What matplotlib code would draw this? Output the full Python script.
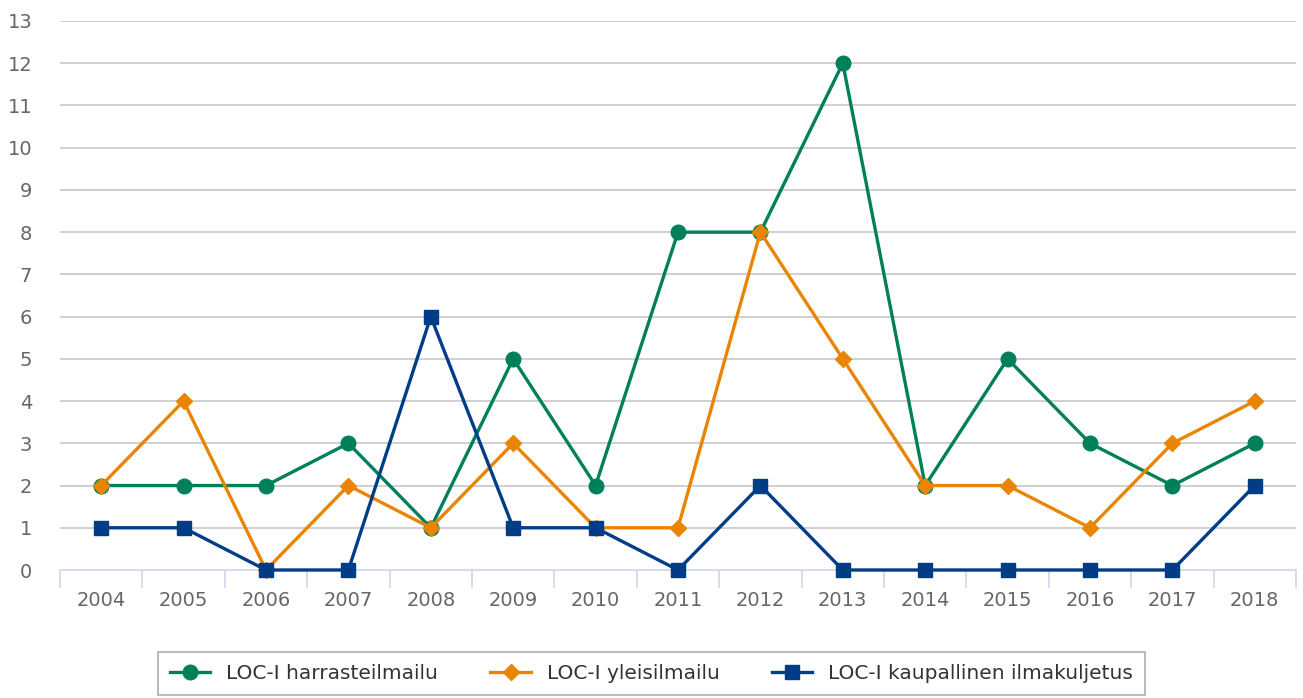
import matplotlib.pyplot as plt
import numpy as np

years = [str(y) for y in range(2004, 2019)]
harrasteilmailu = [2, 2, 2, 3, 1, 5, 2, 8, 8, 12, 2, 5, 3, 2, 3]
yleisilmailu = [2, 4, 0, 2, 1, 3, 1, 1, 8, 5, 2, 2, 1, 3, 4]
kaupallinen = [1, 1, 0, 0, 6, 1, 1, 0, 2, 0, 0, 0, 0, 0, 2]

labels = ["LOC-I harrasteilmailu", "LOC-I yleisilmailu", "LOC-I kaupallinen ilmakuljetus"]
colors = ["#00805a", "#ea8504", "#003d87"]
markers = ["o", "D", "s"]
sizes = [10.5, 8.5, 10.5]

fig = plt.figure(figsize=(13.03, 6.98), dpi=100)
ax = fig.add_axes([60 / 1303, 1 - 570 / 698, 1236 / 1303, 549 / 698])

x = np.arange(len(years))
for values, label, color, marker, size in zip(
        [harrasteilmailu, yleisilmailu, kaupallinen], labels, colors, markers, sizes):
    ax.plot(x, values, color=color, linewidth=2.4, marker=marker, markersize=size,
            label=label, clip_on=False, zorder=3)

ax.set_xlim(-0.5, len(years) - 0.5)
ax.set_ylim(0, 13)
ax.set_yticks(range(0, 14))
ax.set_xticks(x)
ax.set_xticklabels(years)
ax.set_xticks(np.arange(-0.5, len(years)), minor=True)

for y in range(1, 14):
    ax.axhline(y, color="#c4c4c4", linewidth=1.1, zorder=1)

for side in ["top", "right", "left"]:
    ax.spines[side].set_visible(False)
ax.spines["bottom"].set_color("#ccd6eb")
ax.spines["bottom"].set_linewidth(1.2)

ax.tick_params(axis="y", length=0, pad=20, labelsize=14, labelcolor="#666666")
ax.tick_params(axis="x", which="major", length=0, pad=15, labelsize=14, labelcolor="#666666")
ax.tick_params(axis="x", which="minor", length=13, width=1.2, color="#ccd6eb")

leg = fig.legend(loc="upper center", bbox_to_anchor=(0.5, 1 - 652 / 698), ncol=3,
                 fontsize=14.5, frameon=True, fancybox=False, edgecolor="#999999",
                 handlelength=2.0, columnspacing=2.6, borderpad=0.6, borderaxespad=0,
                 labelcolor="#333333")
leg.get_frame().set_linewidth(1.2)

fig.savefig("out.png", dpi=100)
